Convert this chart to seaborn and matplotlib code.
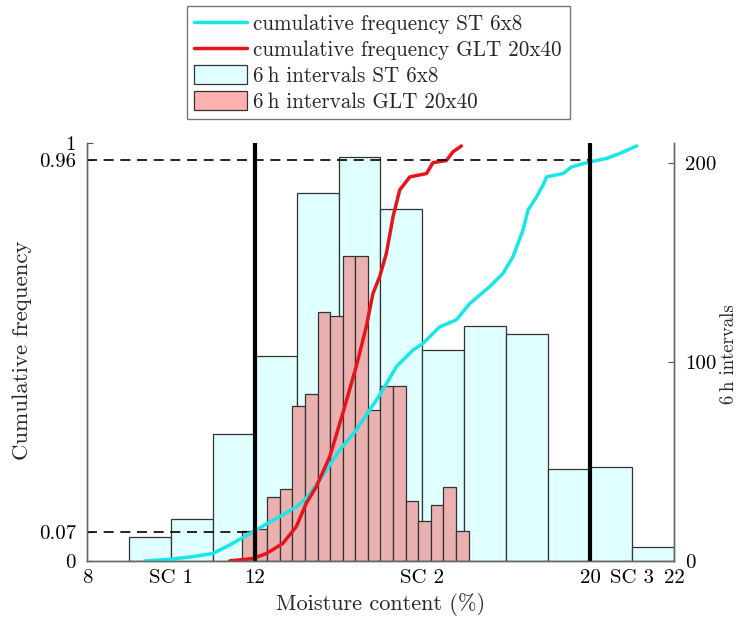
import numpy as np
import pandas as pd
import matplotlib
matplotlib.use("Agg")
import matplotlib.pyplot as plt
import seaborn as sns
from matplotlib.lines import Line2D
from matplotlib.patches import Patch

# ---------------- data ----------------
st_edges = [9, 10, 11, 12, 13, 14, 15, 16, 17, 18, 19, 20, 21, 22]
st_counts = [12, 21, 64, 103, 185, 203, 177, 106, 118, 114, 46, 47, 7]

glt_edges = [11.4, 11.7, 12.0, 12.3, 12.6, 12.9, 13.2, 13.5, 13.8, 14.1, 14.4,
             14.7, 15.0, 15.3, 15.6, 15.9, 16.2, 16.5, 16.8, 17.1]
glt_counts = [1, 15, 16, 32, 36, 78, 84, 125, 123, 153, 153,
              76, 88, 88, 30, 20, 28, 37, 15]

st_cum_x = [9.37, 9.97, 10.5, 11.0, 11.4, 11.96, 12.3, 12.59, 13.0, 13.23, 13.55,
            14.03, 14.42, 14.74, 15.0, 15.38, 15.78, 16.01, 16.41, 16.81, 17.13,
            17.6, 17.92, 18.16, 18.4, 18.52, 18.72, 18.88, 18.96, 19.36, 19.56,
            20.0, 20.39, 20.71, 21.11]
st_cum_y = [0.0, 0.004, 0.01, 0.018, 0.038, 0.07, 0.09, 0.106, 0.13, 0.15, 0.194,
            0.266, 0.313, 0.361, 0.40, 0.465, 0.505, 0.52, 0.56, 0.577, 0.616,
            0.656, 0.688, 0.728, 0.792, 0.84, 0.871, 0.90, 0.919, 0.927, 0.943,
            0.955, 0.963, 0.975, 0.993]

glt_cum_x = [11.4, 11.96, 12.28, 12.67, 12.99, 13.23, 13.47, 13.79, 14.1, 14.42,
             14.66, 14.82, 14.98, 15.14, 15.3, 15.46, 15.7, 16.1, 16.25, 16.57,
             16.73, 16.93]
glt_cum_y = [0.0, 0.006, 0.018, 0.042, 0.082, 0.138, 0.178, 0.25, 0.353, 0.465,
             0.56, 0.64, 0.68, 0.736, 0.824, 0.888, 0.919, 0.927, 0.953, 0.958,
             0.979, 0.993]

x_ticks = [8, 10, 12, 16, 20, 21, 22]
x_ticklabels = ["8", "SC 1", "12", "SC 2", "20", "SC 3", "22"]
left_ticks = [0, 0.07, 0.96, 1]
left_ticklabels = ["0", "0.07", "0.96", "1"]
right_ticks = [0, 100, 200]

labels = ["cumulative frequency ST 6x8", "cumulative frequency GLT 20x40",
          "6\u2009h intervals ST 6x8", "6\u2009h intervals GLT 20x40"]

# ---------------- style ----------------
sns.set_style("white")
plt.rcParams["font.family"] = ["cmr10", "DejaVu Serif"]
plt.rcParams["axes.formatter.use_mathtext"] = True
plt.rcParams["font.size"] = 15

cyan = "#19E6E6"
red = "#E8141C"
cyan_fill = "#E0FFFF"
pink_fill = "#EBB0B0"
edge = "#333333"

fig = plt.figure(figsize=(7.4, 6.26), dpi=100)
ax1 = fig.add_axes([87 / 740, 1 - 561 / 626, (674 - 87) / 740, (561 - 143) / 626])
ax2 = ax1.twinx()

# bars (right axis)
st_df = pd.DataFrame({"x": [(a + b) / 2 for a, b in zip(st_edges[:-1], st_edges[1:])],
                      "w": st_counts})
glt_df = pd.DataFrame({"x": [(a + b) / 2 for a, b in zip(glt_edges[:-1], glt_edges[1:])],
                       "w": glt_counts})
sns.histplot(data=st_df, x="x", weights="w", bins=st_edges, ax=ax2,
             color=cyan_fill, alpha=1, edgecolor=edge, linewidth=0.9)
sns.histplot(data=glt_df, x="x", weights="w", bins=glt_edges, ax=ax2,
             color=pink_fill, alpha=1, edgecolor=edge, linewidth=0.9)

# curves (left axis, on top)
ax1.set_zorder(ax2.get_zorder() + 1)
ax1.patch.set_visible(False)
sns.lineplot(x=st_cum_x, y=st_cum_y, ax=ax1, color=cyan, lw=2.5, sort=False,
             estimator=None)
sns.lineplot(x=glt_cum_x, y=glt_cum_y, ax=ax1, color=red, lw=2.5, sort=False,
             estimator=None)
ax1.plot([8, 20], [0.96, 0.96], color="black", ls=(0, (6, 4)), lw=1.2)
ax1.plot([8, 12], [0.07, 0.07], color="black", ls=(0, (6, 4)), lw=1.2)
ax1.axvline(12, color="black", lw=3)
ax1.axvline(20, color="black", lw=3)

ax1.set_xlim(8, 22)
ax1.set_ylim(0, 1)
ax2.set_ylim(0, 210)

ax1.set_xticks(x_ticks)
ax1.set_xticklabels(x_ticklabels)
ax1.set_yticks(left_ticks)
ax1.set_yticklabels(left_ticklabels)
ax2.set_yticks(right_ticks)
ax2.set_yticklabels([str(t) for t in right_ticks])
ax2.set_xlabel("")

for a in (ax1, ax2):
    a.tick_params(direction="in", length=4, width=0.8, colors="#555555",
                  labelcolor="black", labelsize=15, pad=8)
    a.spines["top"].set_visible(False)
    for s in ["left", "right", "bottom"]:
        a.spines[s].set_color("#666666")
        a.spines[s].set_linewidth(1.0)
ax1.tick_params(axis="x", length=0, pad=6)

ax1.set_xlabel("Moisture content (%)", fontsize=16, va="center")
ax1.xaxis.set_label_coords(0.5, -0.105)
ax1.set_ylabel("Cumulative frequency", fontsize=16.5, va="center")
ax1.yaxis.set_label_coords(-0.111, 0.505)
ax2.set_ylabel("6\u2009h intervals", fontsize=13.5, va="center", rotation=90)
ax2.yaxis.set_label_coords(1.094, 0.495)

handles = [Line2D([], [], color=cyan, lw=2.5),
           Line2D([], [], color=red, lw=2.5),
           Patch(facecolor=cyan_fill, edgecolor=edge, linewidth=0.9),
           Patch(facecolor="#FFB0B0", edgecolor=edge, linewidth=0.9)]
leg = fig.legend(handles, labels, loc="upper left",
                 bbox_to_anchor=(187 / 740, 1 - 6 / 626), frameon=True,
                 fancybox=False, framealpha=1, edgecolor="#777777",
                 fontsize=15.2, handlelength=2.5, handleheight=1.0,
                 handletextpad=0.3, labelspacing=0.25, borderpad=0.35,
                 borderaxespad=0)
leg.get_frame().set_linewidth(1.0)

fig.savefig("out.png", dpi=100)
